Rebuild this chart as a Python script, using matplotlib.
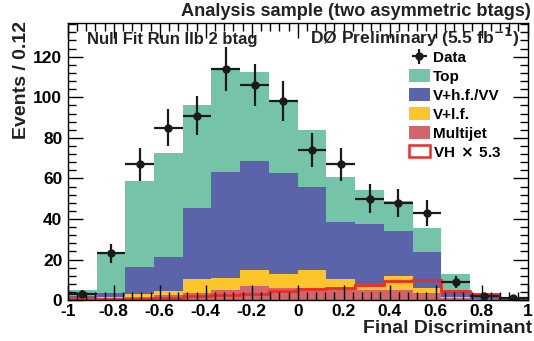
import numpy as np
import matplotlib
matplotlib.use("Agg")
import matplotlib.pyplot as plt
from matplotlib.patches import Patch
from matplotlib.ticker import MultipleLocator

plt.rcParams['font.family'] = ['Liberation Sans', 'DejaVu Sans']
plt.rcParams['font.weight'] = 'bold'

# 16 bins from -1 to 1
edges = np.linspace(-1, 1, 17)

# stacked backgrounds (events per bin)
multijet = [0.5, 0.8, 1.3, 2.3, 3.6, 4.8, 6.9, 5.8, 5.8, 6.4, 4.8, 4.8, 3.6, 0.8, 0.3, 0.1]
vlf = [0.7, 0.6, 1.8, 2.2, 6.6, 6.2, 7.8, 7.2, 8.9, 3.8, 3.0, 7.1, 2.5, 0.8, 0.3, 0.1]
vhf_vv = [0.6, 2.2, 13.4, 16.5, 35.2, 52.0, 53.8, 49.7, 40.9, 28.4, 29.7, 22.3, 17.8, 2.5, 1.0, 0.1]
top = [3.0, 19.3, 42.4, 51.4, 50.6, 51.0, 44.0, 36.2, 28.4, 22.3, 17.0, 14.8, 11.6, 8.9, 1.2, 0.3]

# signal scaled by 5.3
vh = [0.3, 0.5, 0.7, 1.2, 2.0, 2.3, 3.1, 4.5, 5.6, 6.1, 7.5, 9.4, 9.7, 4.6, 2.8, 0.4]

# observed events
data = [3, 23, 67, 85, 91, 114, 106, 98, 74, 67, 50, 48, 43, 9, 2, 1]

c_top = '#76c4a8'
c_vhf = '#5b63ab'
c_vlf = '#fcc62a'
c_mj = '#d3646c'
c_vh = '#ec2b26'

fig = plt.figure(figsize=(5.34, 3.41), dpi=100)
ax = fig.add_axes([0.127, 0.12, 0.861, 0.813])

base = np.zeros(16)
for vals, col in [(multijet, c_mj), (vlf, c_vlf), (vhf_vv, c_vhf), (top, c_top)]:
    vals = np.array(vals)
    ax.stairs(base + vals, edges, baseline=base, fill=True, color=col, lw=0)
    base = base + vals

ax.stairs(vh, edges, baseline=0, color=c_vh, lw=2)

centers = 0.5 * (edges[:-1] + edges[1:])
err = ax.errorbar(centers, data, yerr=np.sqrt(data), xerr=0.0625, fmt='o',
                  color='#1a1a1a', ms=5, elinewidth=1.6, capsize=0)

ax.set_xlim(-1, 1)
ax.set_ylim(0, 136.7)
ax.xaxis.set_minor_locator(MultipleLocator(0.04))
ax.yaxis.set_major_locator(MultipleLocator(20))
ax.yaxis.set_minor_locator(MultipleLocator(4))
ax.set_xticks(np.linspace(-1, 1, 11))
ax.set_xticklabels(['-1', '-0.8', '-0.6', '-0.4', '-0.2', '0', '0.2', '0.4', '0.6', '0.8', '1'])
ax.tick_params(which='both', direction='in', top=True, right=True, labelsize=12.5)
ax.tick_params(which='major', length=11, width=1)
ax.tick_params(which='minor', length=6, width=1)
ax.tick_params(axis='x', pad=3)
ax.tick_params(axis='y', pad=4)
for s in ax.spines.values():
    s.set_linewidth(1)

fig.text(0.995, 0.966, 'Analysis sample (two asymmetric btags)', ha='right', va='center',
         fontsize=13.1, color='#222222')
fig.text(0.163, 0.884, 'Null Fit Run IIb 2 btag', ha='left', va='center', fontsize=12, color='#222222')
fig.text(0.973, 0.890, 'DØ Preliminary (5.5 fb$^{\\mathbf{-1}}$)', ha='right', va='center',
         fontsize=12.6, color='#222222')
fig.text(0.041, 0.937, 'Events / 0.12', rotation=90, ha='center', va='top', fontsize=14, color='#222222')
fig.text(0.997, 0.038, 'Final Discriminant', ha='right', va='center', fontsize=14, color='#222222')

handles = [err,
           Patch(facecolor=c_top, edgecolor='none'),
           Patch(facecolor=c_vhf, edgecolor='none'),
           Patch(facecolor=c_vlf, edgecolor='none'),
           Patch(facecolor=c_mj, edgecolor='none'),
           Patch(facecolor='white', edgecolor=c_vh, lw=1.8)]
labels = ['Data', 'Top', 'V+h.f./VV', 'V+l.f.', 'Multijet', r'VH$\,\times\,$5.3']
ax.legend(handles, labels, loc='upper left', bbox_to_anchor=(0.765, 0.852),
          bbox_transform=fig.transFigure, frameon=False, fontsize=11,
          handlelength=1.4, handleheight=0.85, handletextpad=0.2, labelspacing=0.3,
          borderpad=0, borderaxespad=0)

fig.savefig('out.png', dpi=100)
